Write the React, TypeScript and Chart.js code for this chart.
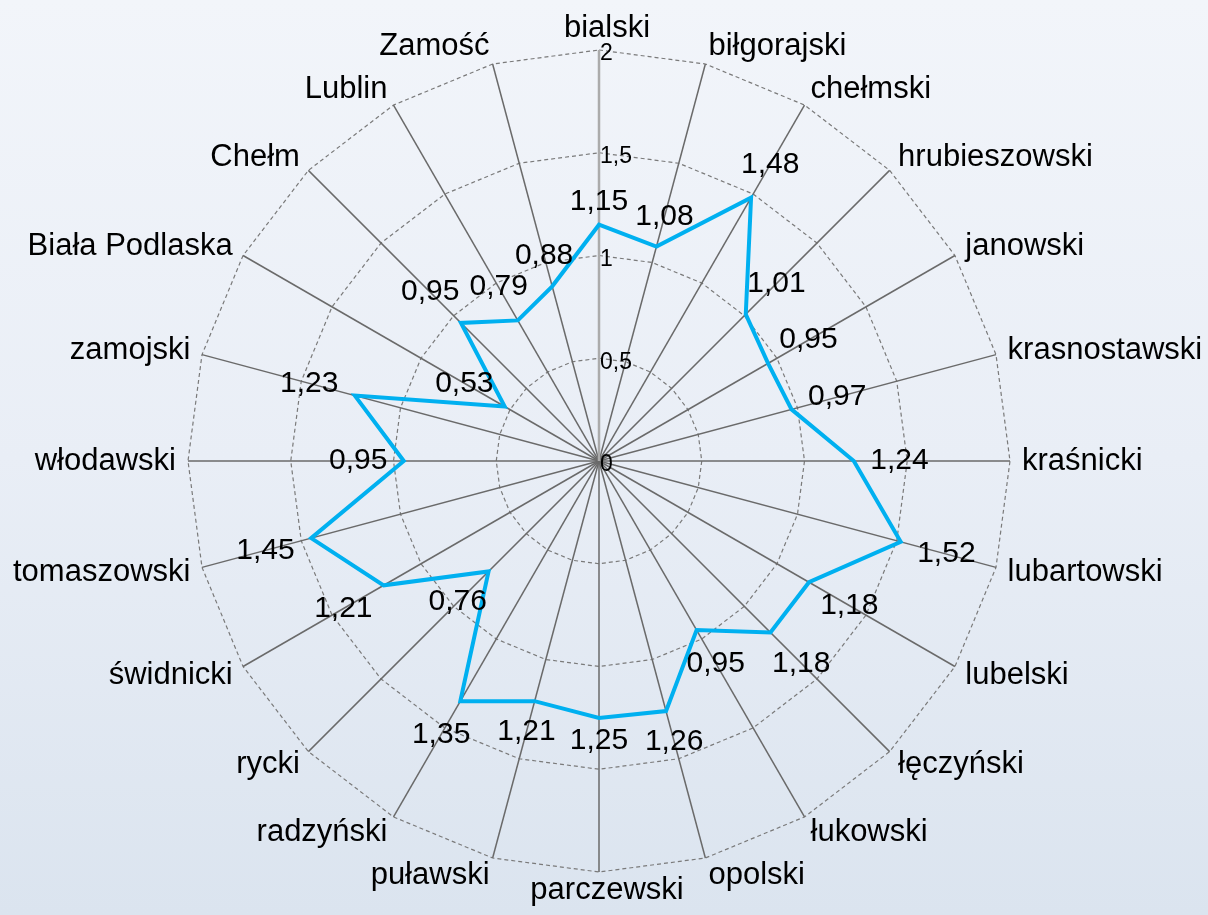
import React, { useEffect, useRef } from 'react';
import { Chart, registerables } from 'chart.js';

Chart.register(...registerables);

const categories = [
  'bialski', 'biłgorajski', 'chełmski', 'hrubieszowski', 'janowski', 'krasnostawski',
  'kraśnicki', 'lubartowski', 'lubelski', 'łęczyński', 'łukowski', 'opolski',
  'parczewski', 'puławski', 'radzyński', 'rycki', 'świdnicki', 'tomaszowski',
  'włodawski', 'zamojski', 'Biała Podlaska', 'Chełm', 'Lublin', 'Zamość',
];

const values = [
  1.15, 1.08, 1.48, 1.01, 0.95, 0.97,
  1.24, 1.52, 1.18, 1.18, 0.95, 1.26,
  1.25, 1.21, 1.35, 0.76, 1.21, 1.45,
  0.95, 1.23, 0.53, 0.95, 0.79, 0.88,
];

const tickValues = [0, 0.5, 1, 1.5, 2];
const tickLabels = ['0', '0,5', '1', '1,5', '2'];

const FONT = '"Liberation Sans", Arial, sans-serif';

const bgPlugin = {
  id: 'bgGradient',
  beforeDraw(chart: any) {
    const { ctx, width, height } = chart;
    const g = ctx.createLinearGradient(0, 0, 0, height);
    g.addColorStop(0, '#f2f5fa');
    g.addColorStop(0.5, '#e9eef6');
    g.addColorStop(1, '#dbe4ef');
    ctx.save();
    ctx.fillStyle = g;
    ctx.fillRect(0, 0, width, height);
    ctx.restore();
  },
};

const labelsPlugin = {
  id: 'textLabels',
  afterDraw(chart: any) {
    const ctx = chart.ctx;
    const scale = chart.scales.r;
    const cx = scale.xCenter;
    const cy = scale.yCenter;
    const outer = scale.getDistanceFromCenterForValue(scale.max);
    ctx.save();
    ctx.fillStyle = '#000';
    ctx.textBaseline = 'middle';

    // value-axis tick labels
    ctx.font = `23px ${FONT}`;
    ctx.textAlign = 'left';
    tickValues.forEach((v, i) => {
      const y = cy - scale.getDistanceFromCenterForValue(v);
      ctx.fillText(tickLabels[i], cx + 1, y + 4);
    });

    // category labels
    ctx.font = `31px ${FONT}`;
    categories.forEach((c, i) => {
      const a = scale.getIndexAngle(i);
      const s = Math.sin(a);
      const co = Math.cos(a);
      const end = scale.getPointPosition(i, outer);
      const deg = Math.round((a * 180) / Math.PI) % 360;
      const gy = deg === 0 ? 22 : 18;
      const x = end.x + 12 * s + (deg === 0 || deg === 180 ? 8 : 0);
      const y = end.y - gy * co;
      ctx.textAlign = deg === 0 || deg === 180 ? 'center' : deg < 180 ? 'left' : 'right';
      ctx.fillText(c, x, y);
    });

    // data labels
    ctx.font = `30px ${FONT}`;
    ctx.textAlign = 'center';
    const meta = chart.getDatasetMeta(0);
    values.forEach((v, i) => {
      const pt = meta.data[i];
      const a = scale.getIndexAngle(i);
      const ux = Math.sin(a);
      const uy = -Math.cos(a);
      const txt = v.toFixed(2).replace('.', ',');
      const w = ctx.measureText(txt).width;
      const h = 22;
      const d = 12 + (Math.abs(ux) * w * 1.15) / 2 + (Math.abs(uy) * h) / 2;
      ctx.fillText(txt, pt.x + ux * d, pt.y + uy * d);
    });
    ctx.restore();
  },
};

export default function App() {
  const ref = useRef<HTMLCanvasElement>(null);
  useEffect(() => {
    const chart = new Chart(ref.current as HTMLCanvasElement, {
      type: 'radar',
      data: {
        labels: categories,
        datasets: [
          {
            data: values,
            borderColor: '#00b0f0',
            borderWidth: 4,
            pointRadius: 0,
            pointHoverRadius: 0,
            fill: false,
            borderJoinStyle: 'miter',
          } as any,
        ],
      },
      options: {
        responsive: false,
        animation: false,
        devicePixelRatio: 1,
        layout: { padding: { left: 188, right: 198, top: 50, bottom: 43 } },
        plugins: { legend: { display: false }, tooltip: { enabled: false } },
        scales: {
          r: {
            min: 0,
            max: 2,
            ticks: { display: false, stepSize: 0.5 },
            pointLabels: { display: false },
            grid: { color: '#7a7a7a', lineWidth: 1.2 },
            border: { dash: [4, 3] },
            angleLines: {
              color: (c: any) => (c.index === 0 ? '#ababab' : '#6a6a6a'),
              lineWidth: (c: any) => (c.index === 0 ? 2.5 : 1.5),
            },
          } as any,
        },
      },
      plugins: [bgPlugin, labelsPlugin],
    });
    return () => chart.destroy();
  }, []);
  return (
    <div style={{ position: 'fixed', left: 0, top: 0, width: 1208, height: 915 }}>
      <canvas ref={ref} width={1208} height={915} style={{ display: 'block' }} />
    </div>
  );
}
